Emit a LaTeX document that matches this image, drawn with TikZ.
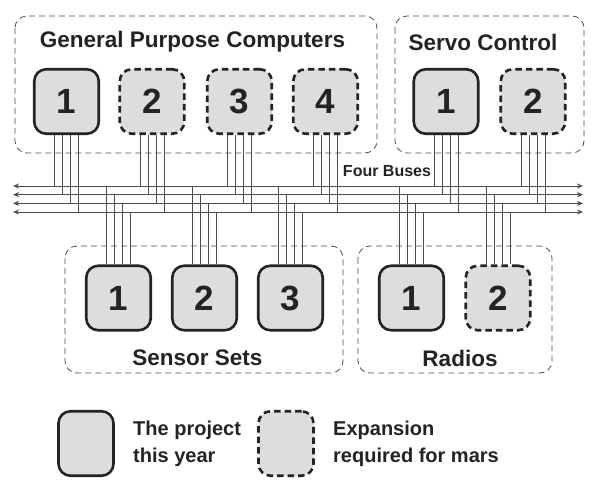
\documentclass[tikz,border=0pt]{standalone}
\usepackage{fontspec}
\setmainfont{Liberation Sans}
\usetikzlibrary{arrows.meta}
\definecolor{boxgray}{RGB}{220,221,223}
\definecolor{ink}{RGB}{35,35,35}
\definecolor{wiregray}{RGB}{75,75,75}
\tikzset{
  unit/.style={draw=ink, fill=boxgray, line width=2.6pt, rounded corners=12pt,
    minimum width=64.5pt, minimum height=64.5pt, inner sep=0pt, text=ink,
    font=\fontsize{35}{36}\selectfont\bfseries},
  spare/.style={unit, dash pattern=on 6.5pt off 4pt},
  group/.style={draw=wiregray, line width=0.8pt, dash pattern=on 6pt off 4pt, rounded corners=12pt},
  title/.style={text=ink, font=\fontsize{22.5}{27}\selectfont\bfseries},
  keytext/.style={text=ink, font=\fontsize{20}{27}\selectfont\bfseries, align=left, anchor=north west, inner sep=0pt},
  wire/.style={draw=wiregray, line width=0.9pt},
  bustip/.style={{Stealth[length=6pt,width=5pt]}-{Stealth[length=6pt,width=5pt]}}
}
\begin{document}
\begin{tikzpicture}[x=1pt, y=-1pt]
\useasboundingbox (0,0) rectangle (591,486);

% groups
\draw[group] (15,16) rectangle (377,153);
\draw[group] (395,16) rectangle (584,153);
\draw[group] (65,246) rectangle (343,373);
\draw[group] (358,246) rectangle (552,373);

\node[title] (gpctitle) at (192.5,42) {General Purpose Computers};
\node[title] (servotitle) at (483,42) {Servo Control};
\node[title] (sensortitle) at (197.5,358) {Sensor Sets};
\node[title] (radiotitle) at (460,358) {Radios};

% units
\node[unit] (gpc1) at (66.5,101.5) {1};
\node[spare] (gpc2) at (152,101.5) {2};
\node[spare] (gpc3) at (239.5,101.5) {3};
\node[spare] (gpc4) at (325.5,101.5) {4};
\node[unit] (servo1) at (446,101.5) {1};
\node[spare] (servo2) at (533,101.5) {2};
\node[unit] (sensor1) at (118.5,298) {1};
\node[unit] (sensor2) at (204.5,298) {2};
\node[unit] (sensor3) at (290.5,298) {3};
\node[unit] (radio1) at (411.5,298) {1};
\node[spare] (radio2) at (498,298) {2};

% the four buses
\foreach \i in {1,...,4} {
    \coordinate (busl\i) at (13,{186+8.67*(\i-1)});
    \coordinate (busr\i) at (583,{186+8.67*(\i-1)});
    \draw[wire, bustip] (busl\i) -- (busr\i);
}
\node[text=ink, font=\fontsize{16}{18}\selectfont\bfseries] (buslabel) at (387,171) {Four Buses};

% taps
\foreach \m in {gpc1,gpc2,gpc3,gpc4,servo1,servo2}
  \foreach \i/\o in {1/-12,2/-4,3/4,4/12} {
    \coordinate (tap) at ([xshift=\o pt]\m.south);
    \draw[wire] (tap) -- (tap |- busl\i);
  }
\foreach \m in {sensor1,sensor2,sensor3,radio1,radio2}
  \foreach \i/\o in {1/-12,2/-4,3/4,4/12} {
    \coordinate (tap) at ([xshift=\o pt]\m.north);
    \draw[wire] (tap) -- (tap |- busl\i);
  }

% legend
\node[unit, minimum width=55pt] (keynow) at (86,443.5) {};
\node[keytext] (keynowtext) at (133,420.5) {The project\\this year};
\node[spare, minimum width=55pt] (keylater) at (286,443.5) {};
\node[keytext] (keylatertext) at (333,420.5) {Expansion\\required for mars};
\end{tikzpicture}
\end{document}
